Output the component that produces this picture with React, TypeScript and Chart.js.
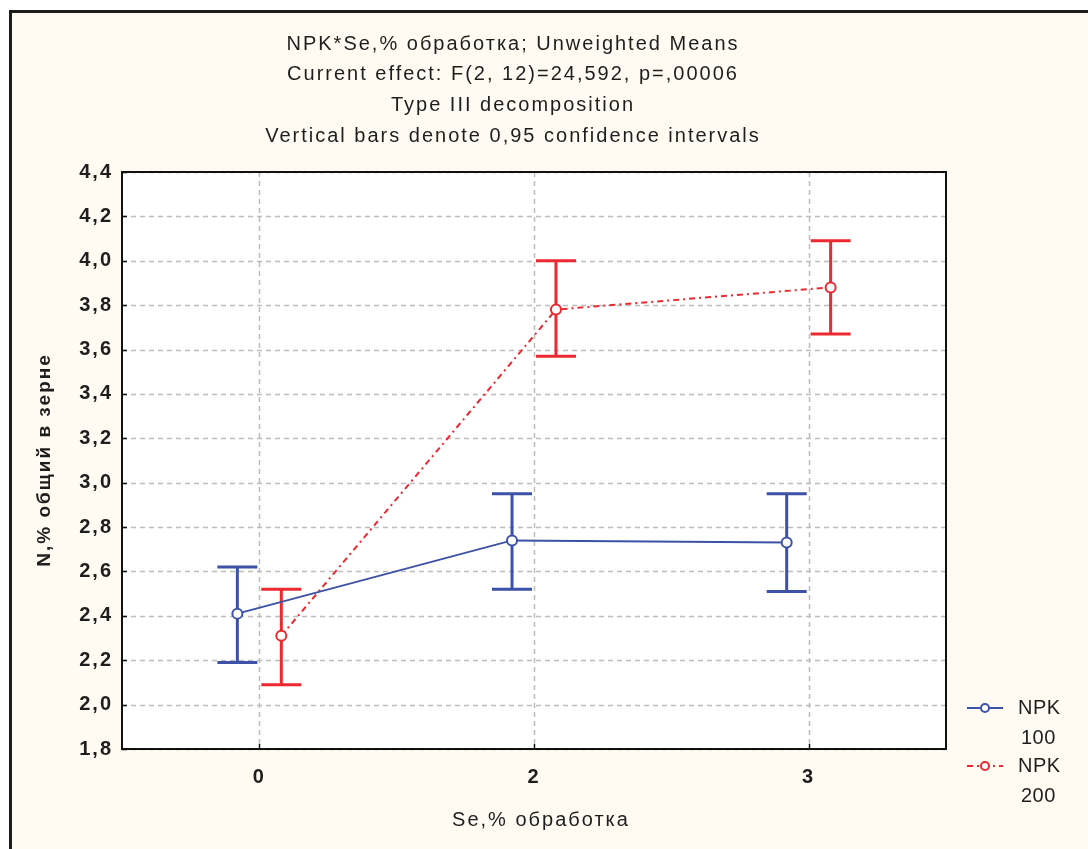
import { useEffect, useRef } from 'react';
import { Chart, registerables } from 'chart.js';

Chart.register(...registerables);

// Se treatment levels (category labels on the x axis)
const seLevels = ['0', '2', '3'];

// NPK 100: unweighted means with 0.95 confidence limits
const npk100Mean = [2.41, 2.74, 2.73];
const npk100Low = [2.19, 2.52, 2.51];
const npk100High = [2.62, 2.95, 2.95];

// NPK 200: unweighted means with 0.95 confidence limits
const npk200Mean = [2.31, 3.78, 3.88];
const npk200Low = [2.09, 3.57, 3.67];
const npk200High = [2.52, 4.0, 4.09];

const titleLines = [
  'NPK*Se,% обработка; Unweighted Means',
  'Current effect: F(2, 12)=24,592, p=,00006',
  'Type III decomposition',
  'Vertical bars denote 0,95 confidence intervals',
];
const xTitle = 'Se,% обработка';
const yTitle = 'N,% общий в зерне';
const legendItems = [
  { name: 'NPK', sub: '100' },
  { name: 'NPK', sub: '200' },
];

const BLUE = '#3d52a6';
const RED = '#ec2830';
const FONT = '"Liberation Sans", Arial, sans-serif';
const GROUP_SHIFT = 0.08;

function drawText(ctx: CanvasRenderingContext2D, text: string, x: number, y: number, font: string, align: CanvasTextAlign, spacing = '1px', color = '#1e1e1e') {
  ctx.save();
  ctx.font = font;
  (ctx as any).letterSpacing = spacing;
  ctx.fillStyle = color;
  ctx.textAlign = align;
  ctx.textBaseline = 'middle';
  ctx.fillText(text, x, y);
  ctx.restore();
}

const framePlugin = {
  id: 'framePlugin',
  beforeDraw(chart: any) {
    const { ctx, chartArea: a } = chart;
    ctx.save();
    ctx.fillStyle = '#ffffff';
    ctx.fillRect(a.left, a.top, a.right - a.left, a.bottom - a.top);
    ctx.restore();
    // wide tracking for the axis tick labels
    (ctx as any).letterSpacing = '2px';
  },
  beforeDatasetsDraw(chart: any) {
    const { ctx, chartArea: a, scales } = chart;
    ctx.save();
    ctx.strokeStyle = '#bdbdbd';
    ctx.lineWidth = 1.5;
    ctx.setLineDash([5, 4]);
    scales.y.ticks.forEach((t: any) => {
      const py = Math.round(scales.y.getPixelForValue(t.value)) + 0.5;
      ctx.beginPath();
      ctx.moveTo(a.left, py);
      ctx.lineTo(a.right, py);
      ctx.stroke();
    });
    scales.x.ticks.forEach((t: any) => {
      const px = Math.round(scales.x.getPixelForValue(t.value)) + 0.5;
      ctx.beginPath();
      ctx.moveTo(px, a.top);
      ctx.lineTo(px, a.bottom);
      ctx.stroke();
    });
    ctx.restore();

    // confidence interval whiskers
    ctx.save();
    ctx.lineWidth = 3;
    chart.data.datasets.forEach((ds: any, di: number) => {
      const meta = chart.getDatasetMeta(di);
      ctx.strokeStyle = ds.borderColor;
      meta.data.forEach((pt: any, i: number) => {
        const yl = scales.y.getPixelForValue(ds.ciLow[i]);
        const yh = scales.y.getPixelForValue(ds.ciHigh[i]);
        const cap = 20;
        ctx.beginPath();
        ctx.moveTo(pt.x, yl);
        ctx.lineTo(pt.x, yh);
        ctx.moveTo(pt.x - cap, yl);
        ctx.lineTo(pt.x + cap, yl);
        ctx.moveTo(pt.x - cap, yh);
        ctx.lineTo(pt.x + cap, yh);
        ctx.stroke();
      });
    });
    ctx.restore();
  },
  afterDatasetsDraw(chart: any) {
    const { ctx, chartArea: a, scales } = chart;
    ctx.save();
    ctx.strokeStyle = '#111111';
    ctx.lineWidth = 2;
    ctx.setLineDash([]);
    ctx.strokeRect(a.left, a.top, a.right - a.left, a.bottom - a.top);
    ctx.lineWidth = 1.5;
    scales.y.ticks.forEach((t: any) => {
      const py = Math.round(scales.y.getPixelForValue(t.value)) + 0.5;
      ctx.beginPath();
      ctx.moveTo(a.left, py);
      ctx.lineTo(a.left + 5, py);
      ctx.stroke();
    });
    scales.x.ticks.forEach((t: any) => {
      const px = Math.round(scales.x.getPixelForValue(t.value)) + 0.5;
      ctx.beginPath();
      ctx.moveTo(px, a.bottom);
      ctx.lineTo(px, a.bottom - 5);
      ctx.stroke();
    });
    ctx.restore();
  },
  afterDraw(chart: any) {
    const { ctx } = chart;
    // heading
    titleLines.forEach((line, i) => {
      drawText(ctx, line, 513, 44 + i * 30.7, `20px ${FONT}`, 'center', '2px');
    });
    // axis titles
    drawText(ctx, xTitle, 541, 820, `20px ${FONT}`, 'center', '2px');
    ctx.save();
    ctx.translate(45, 460);
    ctx.rotate(-Math.PI / 2);
    drawText(ctx, yTitle, 0, 0, `bold 19px ${FONT}`, 'center', '2px');
    ctx.restore();

    // legend
    const rows = [708, 766];
    legendItems.forEach((item, i) => {
      const ds = chart.data.datasets[i];
      const y = rows[i];
      ctx.save();
      ctx.strokeStyle = ds.borderColor;
      ctx.lineWidth = 2;
      ctx.setLineDash(ds.borderDash || []);
      ctx.beginPath();
      ctx.moveTo(967, y);
      ctx.lineTo(1003, y);
      ctx.stroke();
      ctx.setLineDash([]);
      ctx.fillStyle = '#ffffff';
      ctx.beginPath();
      ctx.arc(985, y, 4, 0, Math.PI * 2);
      ctx.fill();
      ctx.stroke();
      ctx.restore();
      drawText(ctx, item.name, 1018, y, `20px ${FONT}`, 'left', '0.5px');
      drawText(ctx, item.sub, 1021, y + 30, `20px ${FONT}`, 'left', '0.5px');
    });
  },
};

export default function App() {
  const canvasRef = useRef<HTMLCanvasElement | null>(null);

  useEffect(() => {
    if (!canvasRef.current) return;
    const chart = new Chart(canvasRef.current, {
      type: 'line',
      data: {
        datasets: [
          {
            label: 'NPK 100',
            data: npk100Mean.map((v, i) => ({ x: i - GROUP_SHIFT, y: v })),
            ciLow: npk100Low,
            ciHigh: npk100High,
            borderColor: BLUE,
            backgroundColor: '#ffffff',
            borderWidth: 2,
            pointRadius: 5,
            pointBorderWidth: 2,
            pointBackgroundColor: '#ffffff',
            pointBorderColor: BLUE,
            tension: 0,
          } as any,
          {
            label: 'NPK 200',
            data: npk200Mean.map((v, i) => ({ x: i + GROUP_SHIFT, y: v })),
            ciLow: npk200Low,
            ciHigh: npk200High,
            borderColor: RED,
            backgroundColor: '#ffffff',
            borderWidth: 2,
            borderDash: [6, 4, 2, 4],
            pointRadius: 5,
            pointBorderWidth: 2,
            pointBackgroundColor: '#ffffff',
            pointBorderColor: RED,
            tension: 0,
          } as any,
        ],
      },
      options: {
        animation: false,
        responsive: false,
        devicePixelRatio: 1,
        layout: { padding: { left: 0, top: 172, right: 142, bottom: 0 } },
        plugins: { legend: { display: false }, tooltip: { enabled: false }, title: { display: false } },
        scales: {
          x: {
            type: 'linear',
            min: -0.5,
            max: 2.5,
            afterBuildTicks: (s: any) => {
              s.ticks = seLevels.map((_, i) => ({ value: i }));
            },
            afterFit: (s: any) => {
              s.height = 100;
            },
            grid: { display: false, drawTicks: false },
            border: { display: false },
            ticks: {
              padding: 16,
              color: '#1e1e1e',
              font: { family: FONT, size: 20, weight: 'bold' },
              callback: (v: any) => seLevels[v] ?? '',
            },
          },
          y: {
            type: 'linear',
            min: 1.8,
            max: 4.4,
            afterFit: (s: any) => {
              s.width = 122;
            },
            grid: { display: false, drawTicks: false },
            border: { display: false },
            ticks: {
              stepSize: 0.2,
              padding: 9,
              color: '#1e1e1e',
              font: { family: FONT, size: 20, weight: 'bold' },
              callback: (v: any) => Number(v).toFixed(1).replace('.', ','),
            },
          },
        },
      } as any,
      plugins: [framePlugin],
    });
    return () => chart.destroy();
  }, []);

  return (
    <div style={{ position: 'absolute', left: 0, top: 0, width: 1088, height: 849, background: '#ffffff', overflow: 'hidden' }}>
      <div
        style={{
          position: 'absolute',
          left: 9,
          top: 10,
          right: 0,
          bottom: 0,
          background: '#fffaf2',
          borderLeft: '3px solid #1c1c1c',
          borderTop: '3px solid #1c1c1c',
        }}
      />
      <canvas ref={canvasRef} width={1088} height={849} style={{ position: 'absolute', left: 0, top: 0 }} />
    </div>
  );
}
